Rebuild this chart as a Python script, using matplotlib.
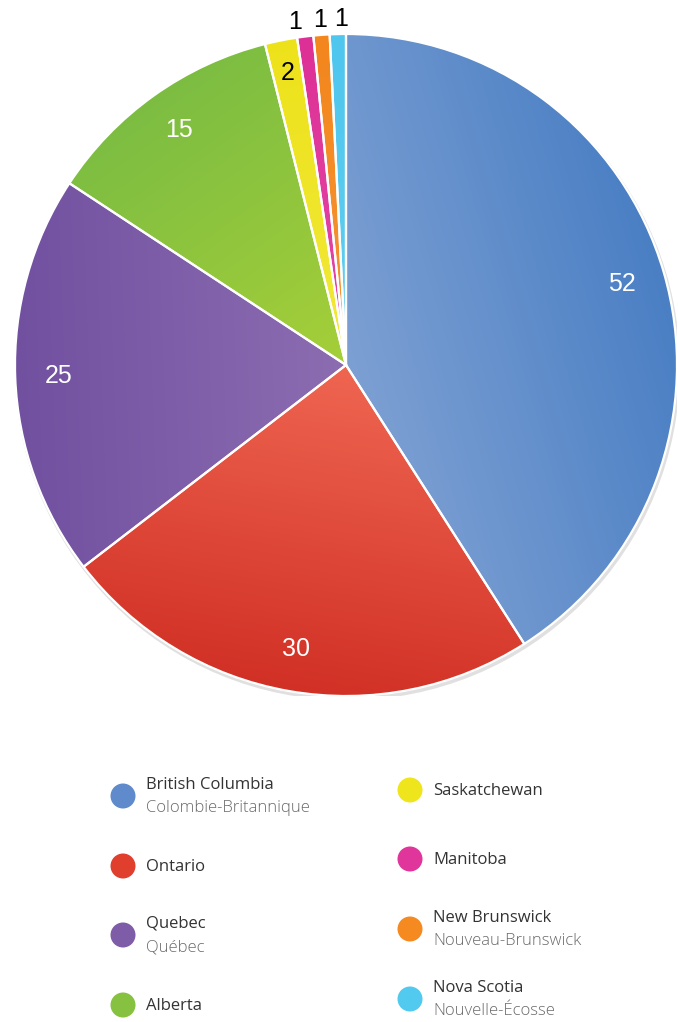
import numpy as np
import matplotlib
matplotlib.use("Agg")
import matplotlib.pyplot as plt
from matplotlib.colors import to_rgb
from matplotlib.patches import Circle

# ---- data ----
provinces_en = ["British Columbia", "Ontario", "Quebec", "Alberta",
                "Saskatchewan", "Manitoba", "New Brunswick", "Nova Scotia"]
provinces_fr = ["Colombie-Britannique", "", "Québec", "",
                "", "", "Nouveau-Brunswick", "Nouvelle-Écosse"]
values = [52, 30, 25, 15, 2, 1, 1, 1]
base_colors = ["#5f8acb", "#e03f2d", "#7e5ca8", "#86c13f",
               "#efe51d", "#e0359a", "#f48a20", "#52c9ee"]
light_colors = ["#7da0d3", "#ef6651", "#8c6db1", "#a6cf38",
                "#f2e93a", "#e44aa6", "#f69535", "#62cff0"]
dark_colors = ["#4a7fc4", "#d13025", "#7150a0", "#7cbd42",
               "#ede21a", "#dd3096", "#f3861d", "#4ec6ee"]

W, H = 678, 1022
fig = plt.figure(figsize=(W / 100, H / 100), dpi=100)
fig.patch.set_facecolor("white")

# pie axes: centre (346, 365) px, radius 331 px
cx, cy, R = 346, 365, 331
ax = fig.add_axes([(cx - R) / W, (H - cy - R) / H, 2 * R / W, 2 * R / H])
ax.set_xlim(-1, 1)
ax.set_ylim(-1, 1)
ax.set_aspect("equal")
ax.axis("off")

# subtle shadow
shadow = Circle((0.004, -0.008), 1.005, facecolor="#000000", alpha=0.12,
                edgecolor="none", zorder=0)
ax.add_patch(shadow)

wedges, _ = ax.pie(values, colors=base_colors, startangle=90, counterclock=False,
                   radius=1.0, center=(0, 0),
                   wedgeprops=dict(edgecolor="white", linewidth=1.6))
ax.set_xlim(-1, 1)
ax.set_ylim(-1, 1)

# gradient fill per wedge along its mid direction
n = 400
xs = np.linspace(-1, 1, n)
X, Y = np.meshgrid(xs, xs)
for w, lc, dc in zip(wedges, light_colors, dark_colors):
    mid = np.deg2rad((w.theta1 + w.theta2) / 2)
    t = np.clip(X * np.cos(mid) + Y * np.sin(mid), 0, 1)
    l = np.array(to_rgb(lc)); d = np.array(to_rgb(dc))
    img = l[None, None, :] * (1 - t[..., None]) + d[None, None, :] * t[..., None]
    im = ax.imshow(img, extent=(-1, 1, -1, 1), origin="lower", zorder=w.get_zorder() + 0.1,
                   interpolation="bilinear")
    im.set_clip_path(w)
    w.set_facecolor("none")
    w.set_zorder(w.get_zorder() + 0.2)

# value labels
small_offsets = {5: -0.025, 6: 0.0, 7: 0.012}
for i, (w, v) in enumerate(zip(wedges, values)):
    mid = np.deg2rad((w.theta1 + w.theta2) / 2)
    frac = v / sum(values)
    if frac > 0.05:
        r, col = 0.87, "white"
    elif v >= 2:
        r, col = 0.90, "black"
    else:
        r, col = 1.045, "black"
    x, y = r * np.cos(mid), r * np.sin(mid)
    x += small_offsets.get(i, 0.0)
    ax.text(x, y, str(v), color=col, fontsize=18, ha="center", va="center",
            family="Liberation Sans", zorder=10, clip_on=False)

# legend (pixel coordinates)
lax = fig.add_axes([0, 0, 1, 1])
lax.set_xlim(0, W)
lax.set_ylim(H, 0)
lax.axis("off")
col_x = [123, 410]
row_y = [[796, 866, 935, 1005], [790, 859, 929, 999]]
for i, (en, fr, c) in enumerate(zip(provinces_en, provinces_fr, base_colors)):
    col = i // 4
    row = i % 4
    x = col_x[col]
    y = row_y[col][row]
    lax.add_patch(Circle((x, y), 12.5, facecolor=c, edgecolor="none"))
    tx = x + 23
    if fr:
        lax.text(tx, y - 11, en, fontsize=12, color="#333333", va="center", ha="left",
                 family="Open Sans")
        lax.text(tx, y + 12, fr, fontsize=12, color="#6a6a6a", va="center", ha="left",
                 family="Open Sans", fontweight="light")
    else:
        lax.text(tx, y + 1, en, fontsize=12, color="#333333", va="center", ha="left",
                 family="Open Sans")

fig.savefig("out.png", dpi=100, facecolor="white")
